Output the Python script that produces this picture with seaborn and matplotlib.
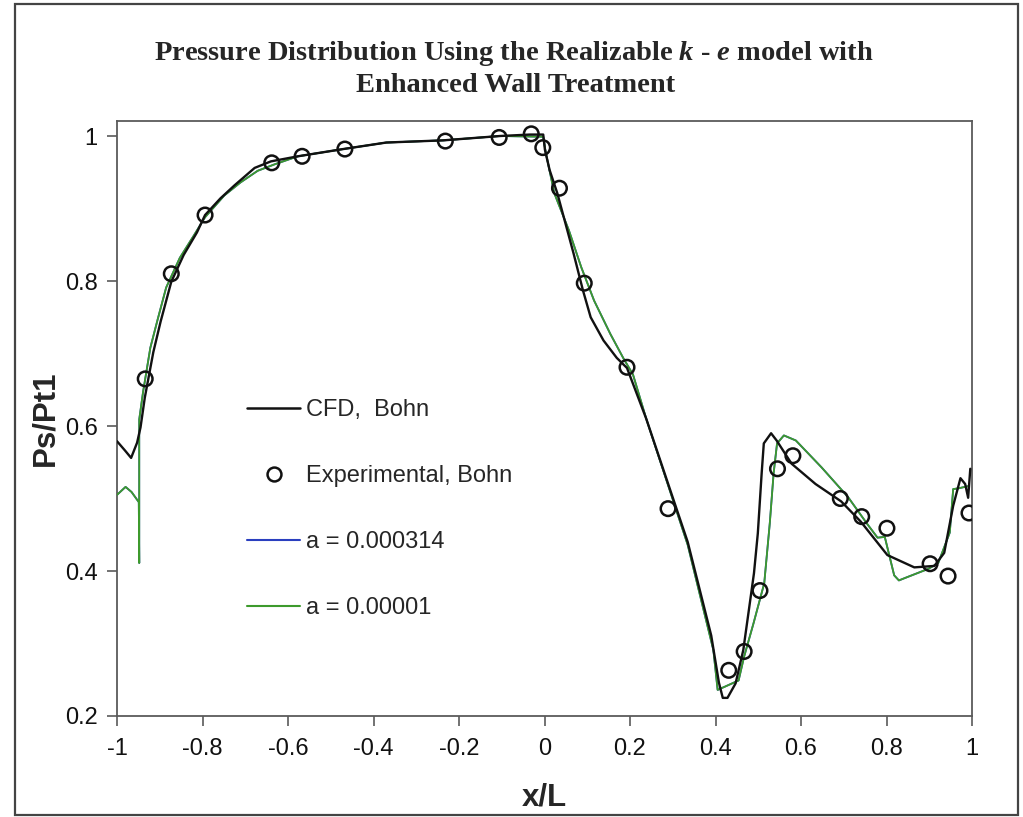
import matplotlib
matplotlib.use("Agg")
import matplotlib.pyplot as plt
from matplotlib.lines import Line2D
from matplotlib.patches import Rectangle
import seaborn as sns
import pandas as pd

# ---------------- data ----------------
exp_x = [-0.934, -0.873, -0.794, -0.638, -0.567, -0.467, -0.232, -0.106, -0.031, -0.004,
         0.035, 0.093, 0.193, 0.289, 0.431, 0.467, 0.504, 0.545, 0.581, 0.692,
         0.742, 0.801, 0.902, 0.944, 0.993]
exp_y = [0.665, 0.810, 0.891, 0.963, 0.972, 0.982, 0.993, 0.998, 1.003, 0.984,
         0.928, 0.797, 0.681, 0.486, 0.263, 0.289, 0.373, 0.541, 0.559, 0.500,
         0.475, 0.459, 0.410, 0.393, 0.480]

cfd_x = [-1.000, -0.981, -0.967, -0.953, -0.945, -0.935, -0.915, -0.898, -0.873, -0.844,
         -0.813, -0.794, -0.758, -0.725, -0.678, -0.640, -0.577, -0.471, -0.370, -0.237,
         -0.104, -0.034, -0.003, 0.001, 0.012, 0.030, 0.068, 0.090, 0.108, 0.138,
         0.169, 0.193, 0.238, 0.335, 0.390, 0.408, 0.417, 0.428, 0.447, 0.465,
         0.478, 0.490, 0.499, 0.508, 0.513, 0.530, 0.543, 0.578, 0.634, 0.694,
         0.740, 0.802, 0.865, 0.912, 0.935, 0.956, 0.973, 0.984, 0.991, 0.996]
cfd_y = [0.579, 0.566, 0.556, 0.577, 0.598, 0.639, 0.702, 0.744, 0.799, 0.836,
         0.867, 0.891, 0.914, 0.932, 0.956, 0.965, 0.972, 0.982, 0.991, 0.994,
         1.000, 1.002, 1.002, 0.981, 0.953, 0.921, 0.838, 0.787, 0.750, 0.718,
         0.694, 0.680, 0.610, 0.440, 0.311, 0.246, 0.225, 0.225, 0.245, 0.291,
         0.346, 0.397, 0.452, 0.535, 0.576, 0.590, 0.580, 0.548, 0.520, 0.496,
         0.468, 0.422, 0.405, 0.407, 0.425, 0.490, 0.528, 0.520, 0.501, 0.541]

a2_x = [-1.000, -0.980, -0.966, -0.949, -0.948, -0.948, -0.939, -0.922, -0.904, -0.885,
        -0.853, -0.820, -0.794, -0.749, -0.711, -0.671, -0.631, -0.577, -0.471, -0.370,
        -0.237, -0.104, -0.003, 0.003, 0.023, 0.057, 0.086, 0.116, 0.154, 0.184,
        0.207, 0.238, 0.335, 0.395, 0.405, 0.424, 0.454, 0.467, 0.489, 0.514,
        0.527, 0.536, 0.544, 0.560, 0.588, 0.648, 0.710, 0.756, 0.779, 0.796,
        0.818, 0.829, 0.846, 0.898, 0.921, 0.948, 0.956, 0.968, 0.991]
a2_y = [0.505, 0.516, 0.509, 0.495, 0.411, 0.609, 0.647, 0.708, 0.749, 0.791,
        0.832, 0.863, 0.888, 0.918, 0.936, 0.952, 0.961, 0.972, 0.982, 0.991,
        0.994, 1.000, 0.999, 0.977, 0.921, 0.870, 0.819, 0.773, 0.727, 0.694,
        0.671, 0.610, 0.436, 0.291, 0.236, 0.241, 0.249, 0.282, 0.328, 0.383,
        0.466, 0.535, 0.576, 0.587, 0.580, 0.543, 0.502, 0.464, 0.446, 0.447,
        0.394, 0.387, 0.391, 0.403, 0.411, 0.453, 0.513, 0.514, 0.517]

# a = 0.000314 lies underneath a = 0.00001 almost everywhere
a1_x = list(a2_x)
a1_y = list(a2_y)

x_ticks = [-1, -0.8, -0.6, -0.4, -0.2, 0, 0.2, 0.4, 0.6, 0.8, 1]
x_tick_labels = ["-1", "-0.8", "-0.6", "-0.4", "-0.2", "0", "0.2", "0.4", "0.6", "0.8", "1"]
y_ticks = [0.2, 0.4, 0.6, 0.8, 1.0]
y_tick_labels = ["0.2", "0.4", "0.6", "0.8", "1"]

labels = ["CFD,  Bohn", "Experimental, Bohn", "a = 0.000314", "a = 0.00001"]

# ---------------- style ----------------
sns.set_style("white")
plt.rcParams["font.family"] = ["Liberation Sans", "DejaVu Sans"]
plt.rcParams["mathtext.fontset"] = "custom"
plt.rcParams["mathtext.it"] = "Liberation Serif:italic:bold"
plt.rcParams["mathtext.rm"] = "Liberation Serif:bold"

BLACK = "#111111"
GREEN = "#3d9a2c"
BLUE = "#2a3fbf"
SPINE = "#5a5a5a"

fig = plt.figure(figsize=(10.23, 8.17), dpi=100)
ax = fig.add_axes([117 / 1023, 1 - 716 / 817, 855 / 1023, 595 / 817])

df_cfd = pd.DataFrame({"x": cfd_x, "y": cfd_y})
df_exp = pd.DataFrame({"x": exp_x, "y": exp_y})
df_a1 = pd.DataFrame({"x": a1_x, "y": a1_y})
df_a2 = pd.DataFrame({"x": a2_x, "y": a2_y})

sns.lineplot(data=df_a1, x="x", y="y", sort=False, estimator=None, color=BLUE,
             linewidth=1.3, ax=ax, zorder=2)
sns.lineplot(data=df_a2, x="x", y="y", sort=False, estimator=None, color=GREEN,
             linewidth=1.3, ax=ax, zorder=3)
sns.lineplot(data=df_cfd, x="x", y="y", sort=False, estimator=None, color=BLACK,
             linewidth=1.7, ax=ax, zorder=4)
sns.scatterplot(data=df_exp, x="x", y="y", marker="o", s=110, facecolor="none",
                edgecolor=BLACK, linewidth=1.8, ax=ax, zorder=5)

ax.set_xlim(-1, 1)
ax.set_ylim(0.2, 1.0207)
ax.set_xticks(x_ticks)
ax.set_xticklabels(x_tick_labels)
ax.set_yticks(y_ticks)
ax.set_yticklabels(y_tick_labels)
ax.tick_params(axis="both", which="both", direction="out", length=7, width=1.2,
               color=SPINE, labelsize=17, labelcolor=BLACK)
ax.tick_params(axis="x", pad=9)
ax.tick_params(axis="y", pad=7)
ax.tick_params(top=False, right=False, bottom=True, left=True)
for sp in ax.spines.values():
    sp.set_visible(True)
    sp.set_color(SPINE)
    sp.set_linewidth(1.3)

ax.set_xlabel("x/L", fontsize=22.5, fontweight="bold", labelpad=16)
ax.set_ylabel("Ps/Pt1", fontsize=22.5, fontweight="bold", labelpad=3)

handles = [
    Line2D([], [], color=BLACK, lw=1.8),
    Line2D([], [], color=BLACK, lw=0, marker="o", markersize=10,
           markerfacecolor="none", markeredgewidth=1.8, markeredgecolor=BLACK),
    Line2D([], [], color=BLUE, lw=1.5),
    Line2D([], [], color=GREEN, lw=1.5),
]
ax.legend(handles, labels, loc="upper left", bbox_to_anchor=(0.152, 0.532),
          frameon=False, fontsize=17, handlelength=2.25, handletextpad=0.25,
          labelspacing=1.86, borderpad=0, borderaxespad=0, numpoints=1)

fig.text(0.502, 1 - 53 / 817, r"Pressure Distribution Using the Realizable $k$ - $e$ model with",
         ha="center", va="center", fontsize=20.5, fontweight="bold",
         family="Liberation Serif")
fig.text(0.504, 1 - 85 / 817, "Enhanced Wall Treatment",
         ha="center", va="center", fontsize=20.5, fontweight="bold",
         family="Liberation Serif")

fig.patches.append(Rectangle((15 / 1023, 2 / 817), (1018 - 15) / 1023, (813 - 2) / 817,
                             transform=fig.transFigure, fill=False,
                             edgecolor="#444444", linewidth=1.6))

fig.savefig("out.png", dpi=100)
